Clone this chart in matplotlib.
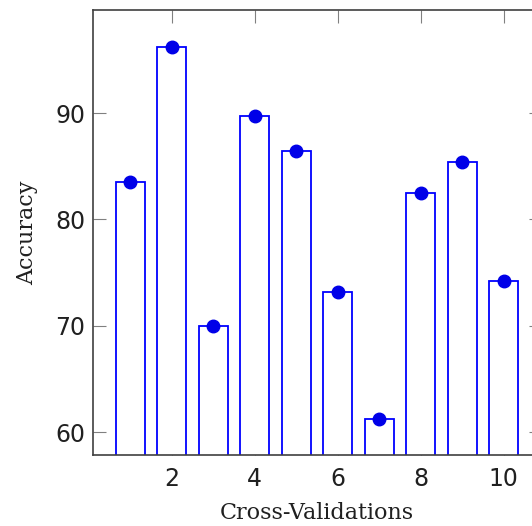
import matplotlib
matplotlib.use("Agg")
import matplotlib.pyplot as plt

folds = [1, 2, 3, 4, 5, 6, 7, 8, 9, 10]
accuracy = [83.5, 96.2, 70.0, 89.7, 86.4, 73.2, 61.2, 82.5, 85.4, 74.2]
xticks = [2, 4, 6, 8, 10]
yticks = [60, 70, 80, 90]

fig = plt.figure(figsize=(5.32, 5.26), dpi=100)
ax = fig.add_axes([93/532, (526-455)/526, (541-93)/532, (455-10)/526])

ax.bar(folds, [a - 50 for a in accuracy], bottom=50, width=0.7,
       facecolor='white', edgecolor='#0000ff', linewidth=1.3, zorder=2)
ax.plot(folds, accuracy, 'o', color='#0000e8', markersize=9, zorder=3)

ax.set_xlim(0.1, 10.9)
ax.set_ylim(57.85, 99.7)
ax.set_xticks(xticks)
ax.set_yticks(yticks)
ax.tick_params(direction='in', length=9, width=0.8, color='#808080',
               top=True, right=True, labelsize=17)
ax.tick_params(axis='x', pad=8.5)
ax.tick_params(axis='y', pad=5.5)
for lab in ax.get_xticklabels() + ax.get_yticklabels():
    lab.set_family('DejaVu Sans')
    lab.set_color('#202020')
for s in ax.spines.values():
    s.set_color('#404040')
    s.set_linewidth(1.2)

ax.set_xlabel('Cross-Validations', fontsize=16, labelpad=8,
              family='DejaVu Serif', color='#202020')
ax.set_ylabel('Accuracy', fontsize=16, labelpad=12.5,
              family='DejaVu Serif', color='#202020')

fig.savefig('out.png', dpi=100)
